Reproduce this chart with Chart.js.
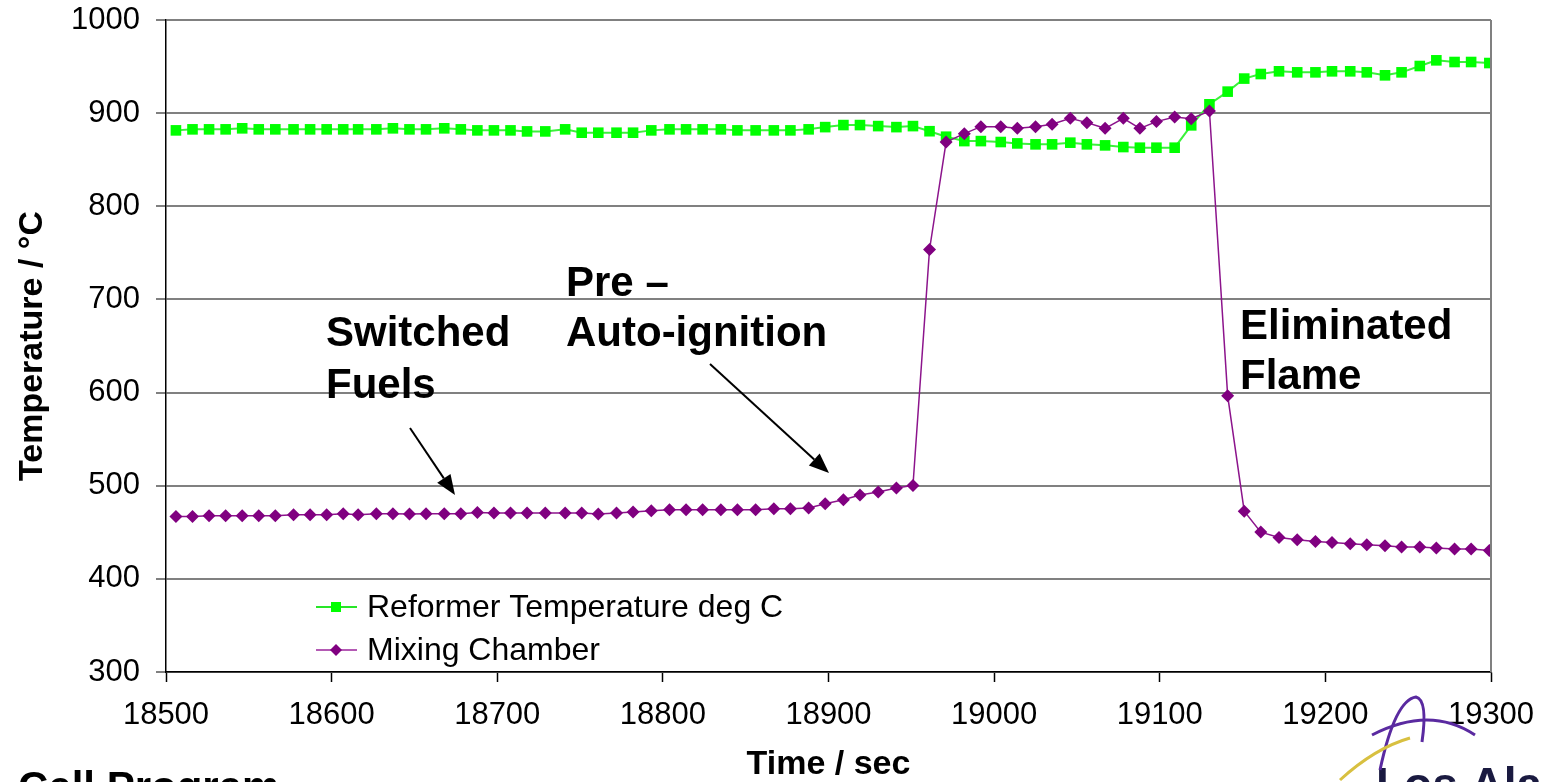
<!DOCTYPE html>
<html>
<head>
<meta charset="utf-8">
<script src="https://cdn.jsdelivr.net/npm/chart.js@4/dist/chart.umd.min.js"></script>
<style>
  html, body { margin: 0; padding: 0; background: #fff; }
  #wrap { width: 1544px; height: 782px; position: relative; }
</style>
</head>
<body>
<div id="wrap"><canvas id="chartTemp"></canvas></div>
<script>
// Data (time in sec, temperature in deg C)
const times = [
  18506, 18516, 18526, 18536, 18546, 18556, 18566, 18577, 18587, 18597,
  18607, 18616, 18627, 18637, 18647, 18657, 18668, 18678, 18688, 18698,
  18708, 18718, 18729, 18741, 18751, 18761, 18772, 18782, 18793, 18804,
  18814, 18824, 18835, 18845, 18856, 18867, 18877, 18888, 18898, 18909,
  18919, 18930, 18941, 18951, 18961, 18971, 18982, 18992, 19004, 19014,
  19025, 19035, 19046, 19056, 19067, 19078, 19088, 19098, 19109, 19119,
  19130, 19141, 19151, 19161, 19172, 19183, 19194, 19204, 19215, 19225,
  19236, 19246, 19257, 19267, 19278, 19288, 19299,
];

const reformerTemp = [
  881.5, 882.6, 882.6, 882.6, 883.7, 882.6, 882.6, 882.6, 882.6, 882.6,
  882.6, 882.6, 882.6, 883.7, 882.6, 882.6, 883.7, 882.6, 881.5, 881.5,
  881.5, 880.4, 880.4, 882.6, 879.0, 879.0, 879.0, 879.0, 881.5, 882.6,
  882.6, 882.6, 882.6, 881.5, 881.5, 881.5, 881.5, 882.6, 885.0, 887.2,
  887.2, 886.1, 885.0, 886.1, 880.6, 874.7, 870.0, 870.0, 869.0, 867.5,
  866.5, 866.5, 868.3, 866.5, 865.4, 863.6, 862.9, 862.9, 862.9, 886.9,
  909.5, 923.1, 937.1, 942.0, 944.9, 943.8, 943.8, 944.9, 944.9, 943.8,
  940.6, 943.8, 950.6, 956.7, 954.9, 954.9, 953.8,
];

const mixingChamber = [
  467.0, 467.0, 467.8, 467.8, 467.8, 467.8, 467.8, 468.8, 468.8, 468.8,
  469.9, 468.8, 469.9, 469.9, 469.5, 469.9, 469.9, 469.9, 471.3, 470.6,
  470.6, 470.6, 470.6, 470.6, 470.6, 469.6, 470.6, 471.7, 473.1, 474.2,
  474.2, 474.2, 474.2, 474.2, 474.2, 475.3, 475.3, 476.0, 480.7, 485.0,
  490.0, 493.2, 497.5, 500.3, 753.6, 868.9, 878.0, 885.5, 885.5, 883.7,
  885.5, 888.0, 894.4, 889.8, 883.7, 894.4, 883.7, 890.9, 895.8, 894.1,
  902.3, 596.7, 472.7, 450.2, 444.4, 442.0, 440.2, 439.1, 437.7, 436.6,
  435.5, 434.1, 434.1, 433.1, 432.0, 432.0, 430.5,
];

const seriesLabels = ["Reformer Temperature deg C", "Mixing Chamber"];
const xRange = [18500, 19300];
const yRange = [300, 1000];

const FONT = '"Liberation Sans", Arial, sans-serif';

const toPoints = (xs, ys) => xs.map((x, i) => ({ x: x, y: ys[i] }));

// Overlay: right frame, legend, callouts, arrows and slide remnants
const overlay = {
  id: "overlay",
  afterDraw(chart) {
    const { ctx, chartArea: a } = chart;
    ctx.save();

    // right edge of the plot frame
    ctx.strokeStyle = "#808080";
    ctx.lineWidth = 2;
    ctx.beginPath();
    ctx.moveTo(a.right, a.top);
    ctx.lineTo(a.right, a.bottom);
    ctx.stroke();

    // legend
    ctx.font = "32px " + FONT;
    ctx.textBaseline = "middle";
    ctx.textAlign = "left";
    chart.data.datasets.forEach((ds, i) => {
      const y = 607 + i * 43;
      ctx.strokeStyle = ds.legendLine;
      ctx.lineWidth = 2;
      ctx.beginPath();
      ctx.moveTo(316, y);
      ctx.lineTo(357, y);
      ctx.stroke();
      ctx.fillStyle = ds.pointBackgroundColor;
      ctx.beginPath();
      if (ds.pointStyle === "rect") {
        ctx.rect(331, y - 5, 10, 10);
      } else {
        ctx.moveTo(336 - 6, y);
        ctx.lineTo(336, y - 6);
        ctx.lineTo(336 + 6, y);
        ctx.lineTo(336, y + 6);
        ctx.closePath();
      }
      ctx.fill();
      ctx.fillStyle = "#000";
      ctx.fillText(ds.label, 367, y + 1);
    });

    // callouts
    ctx.font = "bold 42px " + FONT;
    ctx.textBaseline = "alphabetic";
    ctx.fillStyle = "#000";
    ctx.fillText("Switched", 326, 346);
    ctx.fillText("Fuels", 326, 398);
    ctx.fillText("Pre \u2013", 566, 296);
    ctx.fillText("Auto-ignition", 566, 346);
    ctx.fillText("Eliminated", 1240, 339);
    ctx.fillText("Flame", 1240, 389);

    // arrows
    const arrow = (x1, y1, x2, y2) => {
      const ang = Math.atan2(y2 - y1, x2 - x1);
      const len = 20, half = 8;
      const bx = x2 - len * Math.cos(ang), by = y2 - len * Math.sin(ang);
      ctx.strokeStyle = "#000";
      ctx.lineWidth = 2;
      ctx.beginPath();
      ctx.moveTo(x1, y1);
      ctx.lineTo(bx, by);
      ctx.stroke();
      ctx.beginPath();
      ctx.moveTo(x2, y2);
      ctx.lineTo(bx + half * Math.sin(ang), by - half * Math.cos(ang));
      ctx.lineTo(bx - half * Math.sin(ang), by + half * Math.cos(ang));
      ctx.closePath();
      ctx.fill();
    };
    arrow(410, 428, 455, 495);
    arrow(710, 364, 829, 473);

    // slide remnants cut by the frame
    ctx.font = "bold 42px " + FONT;
    ctx.fillText("Cell Program", 18, 801);
    ctx.fillStyle = "#1a1a40";
    ctx.font = "bold 46px " + FONT;
    ctx.fillText("Los Alamos", 1376, 800);

    // logo swooshes
    ctx.lineWidth = 3;
    ctx.strokeStyle = "#5a2aa0";
    ctx.beginPath();
    ctx.moveTo(1380, 770);
    ctx.quadraticCurveTo(1395, 700, 1416, 697);
    ctx.quadraticCurveTo(1428, 700, 1422, 742);
    ctx.stroke();
    ctx.beginPath();
    ctx.moveTo(1372, 735);
    ctx.quadraticCurveTo(1430, 705, 1475, 735);
    ctx.stroke();
    ctx.strokeStyle = "#d8c040";
    ctx.beginPath();
    ctx.moveTo(1340, 780);
    ctx.quadraticCurveTo(1375, 748, 1410, 738);
    ctx.stroke();

    ctx.restore();
  },
};

const ctxTemp = document.getElementById("chartTemp").getContext("2d");

const dataTemp = {
  datasets: [
    {
      label: seriesLabels[0],
      data: toPoints(times, reformerTemp),
      borderColor: "rgb(60, 240, 60)",
      legendLine: "rgb(40, 230, 40)",
      borderWidth: 2,
      pointStyle: "rect",
      pointRadius: 7.5,
      pointBackgroundColor: "#00ff00",
      pointBorderColor: "#00ff00",
      pointBorderWidth: 0,
      order: 1,
    },
    {
      label: seriesLabels[1],
      data: toPoints(times, mixingChamber),
      borderColor: "rgb(140, 20, 140)",
      legendLine: "rgb(180, 90, 180)",
      borderWidth: 1.5,
      pointStyle: "rectRot",
      pointRadius: 6.5,
      pointBackgroundColor: "#800080",
      pointBorderColor: "#800080",
      pointBorderWidth: 0,
      order: 0,
    },
  ],
};

const optionsTemp = {
  responsive: true,
  maintainAspectRatio: false,
  animation: false,
  devicePixelRatio: 1,
  layout: {
    padding: { left: 0, top: 20, right: 53, bottom: 0 },
  },
  elements: {
    line: { tension: 0, fill: false },
  },
  plugins: {
    legend: { display: false },
    tooltip: { enabled: false },
  },
  scales: {
    x: {
      type: "linear",
      min: xRange[0],
      max: xRange[1],
      afterFit: (scale) => {
        scale.height = 110;
        scale.paddingLeft = 0;
        scale.paddingRight = 0;
      },
      border: { display: true, color: "#000", width: 1.5 },
      grid: {
        drawOnChartArea: false,
        drawTicks: true,
        tickLength: 10,
        tickColor: "#000",
        tickWidth: 1.5,
      },
      ticks: {
        stepSize: 100,
        padding: 15,
        maxRotation: 0,
        color: "#000",
        font: { family: FONT, size: 31 },
        callback: (v) => String(v),
      },
      title: {
        display: true,
        text: "Time / sec",
        color: "#000",
        font: { family: FONT, size: 34, weight: "bold", lineHeight: 1 },
        padding: { top: 0, bottom: 0 },
      },
    },
    y: {
      min: yRange[0],
      max: yRange[1],
      afterFit: (scale) => {
        scale.width = 166;
        scale.paddingTop = 0;
        scale.paddingBottom = 0;
      },
      border: { display: true, color: "#000", width: 1.5 },
      grid: {
        color: "#808080",
        lineWidth: 2,
        drawTicks: true,
        tickLength: 10,
        tickColor: "#808080",
        tickWidth: 2,
      },
      ticks: {
        stepSize: 100,
        padding: 16,
        color: "#000",
        font: { family: FONT, size: 31 },
        callback: (v) => String(v),
      },
      title: {
        display: true,
        text: "Temperature / \u00B0C",
        color: "#000",
        font: { family: FONT, size: 34, weight: "bold", lineHeight: 1 },
        padding: { top: 16, bottom: 0 },
      },
    },
  },
};

new Chart(ctxTemp, {
  type: "line",
  data: dataTemp,
  options: optionsTemp,
  plugins: [overlay],
});
</script>
</body>
</html>
